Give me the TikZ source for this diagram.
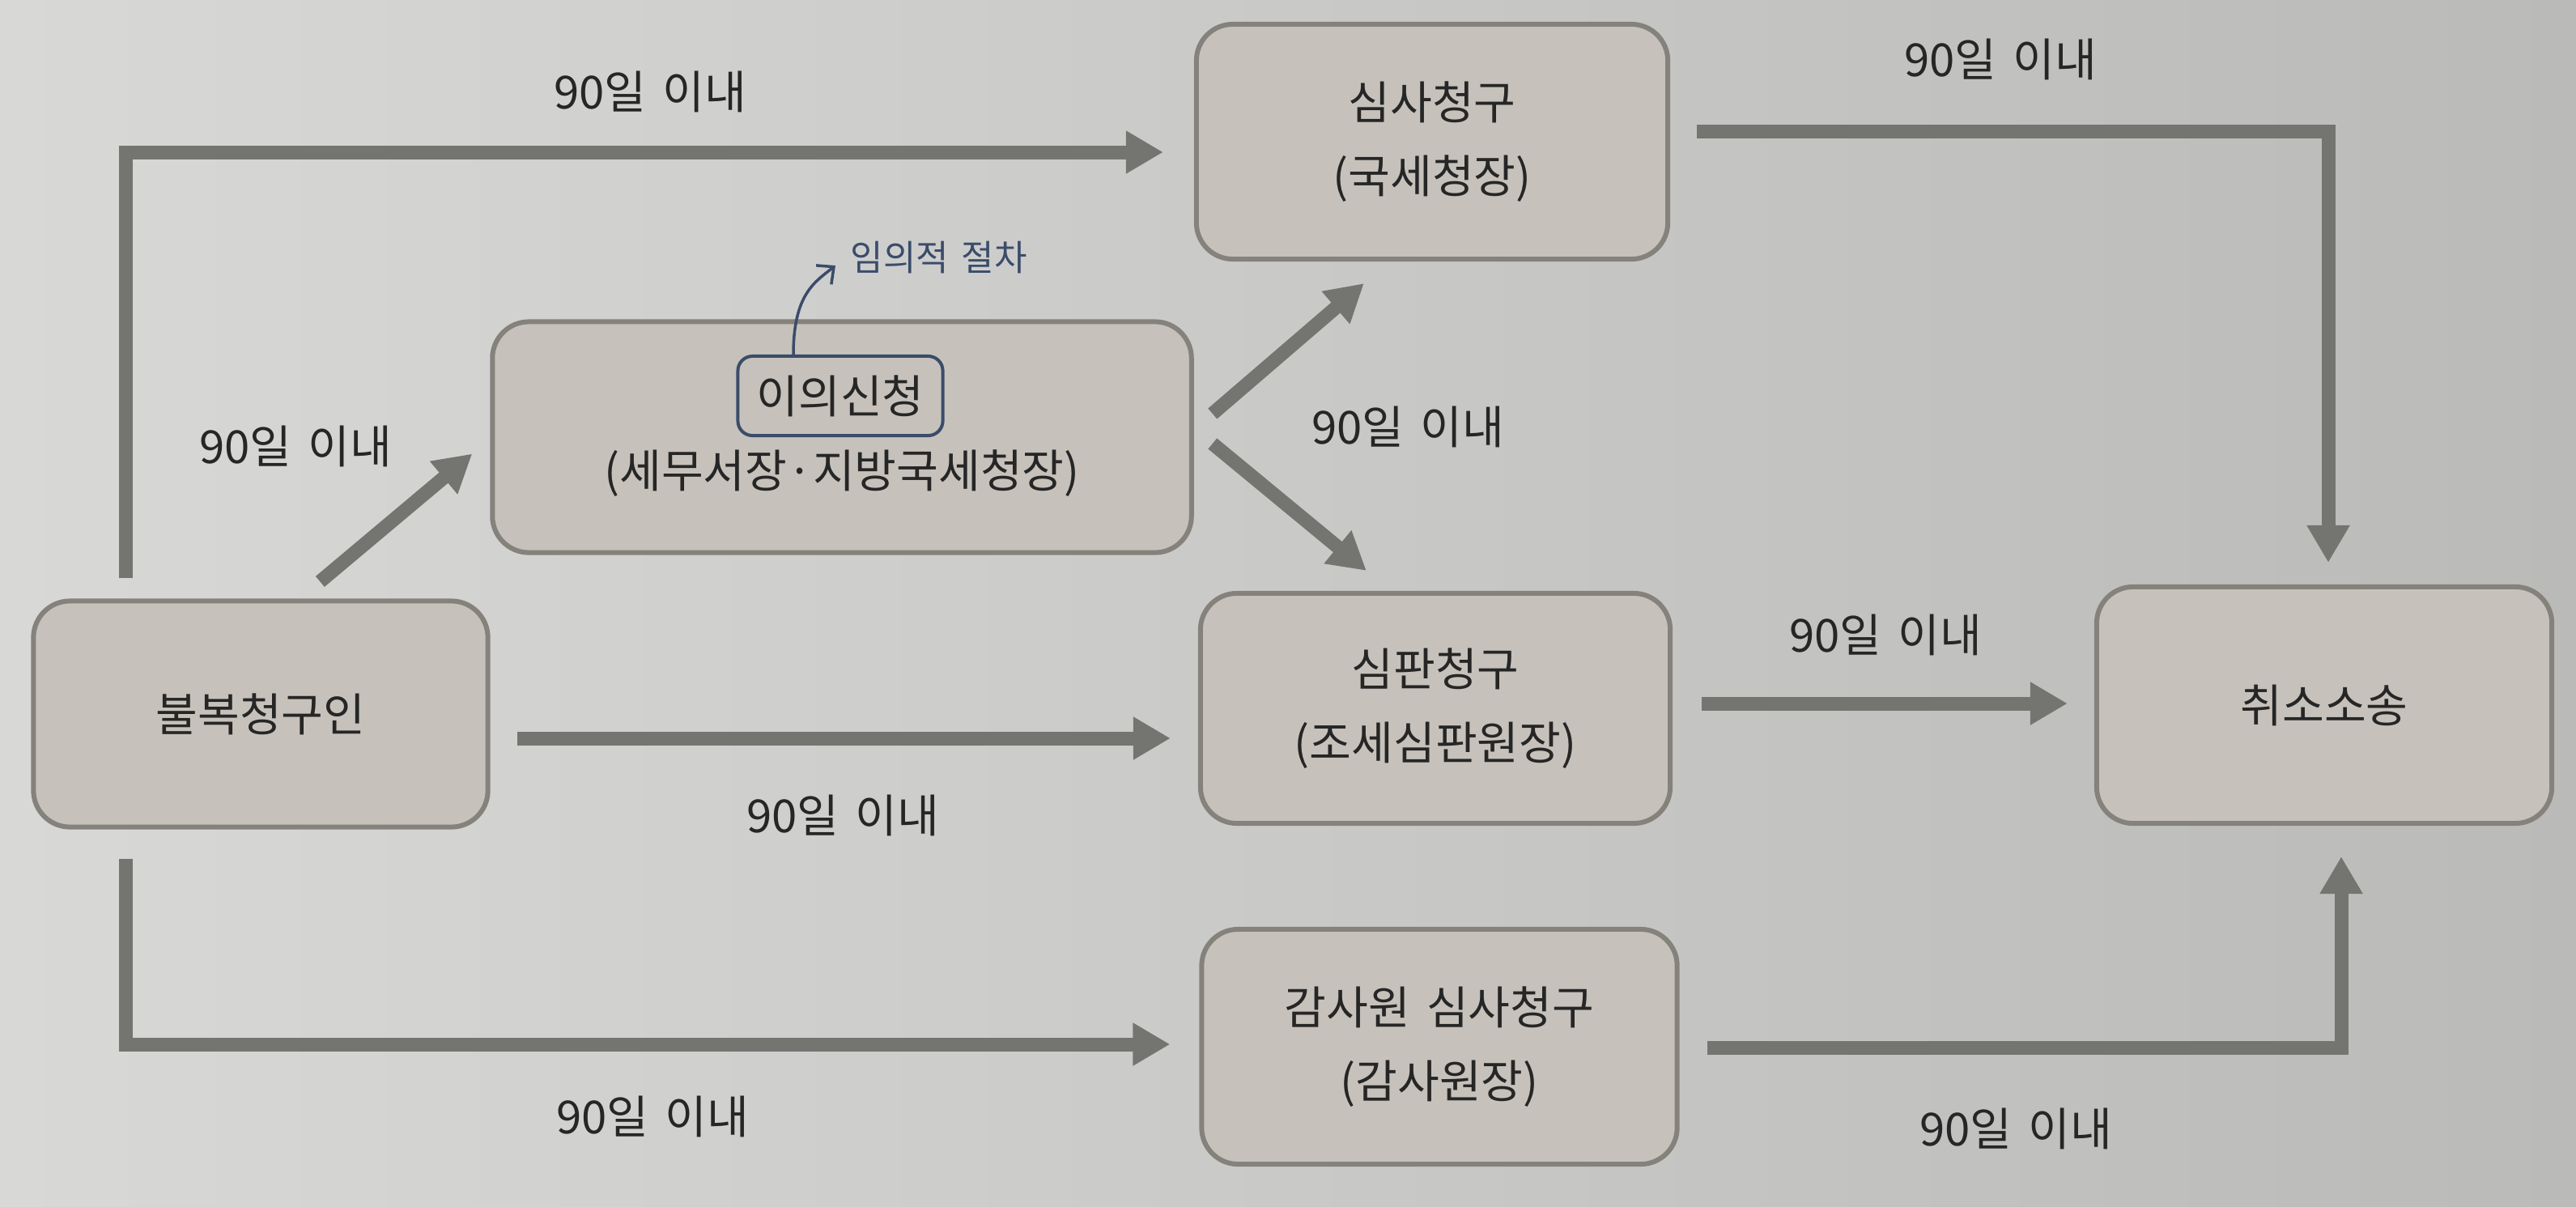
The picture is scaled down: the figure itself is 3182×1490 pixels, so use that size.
\documentclass[tikz,border=0pt]{standalone}
\usepackage{fontspec}
\setmainfont[WordSpace=1.6]{Noto Sans CJK KR}
\usetikzlibrary{arrows.meta,calc}
\definecolor{bgL}{HTML}{D8D9D7}
\definecolor{bgR}{HTML}{BABBB9}
\definecolor{boxfill}{HTML}{C6C2BB}
\definecolor{boxline}{HTML}{85817B}
\definecolor{arrowc}{HTML}{747471}
\definecolor{txt}{HTML}{262626}
\definecolor{bluec}{HTML}{3B4C6A}
\begin{document}
\begin{tikzpicture}[x=0.01cm,y=-0.01cm,
  box/.style={draw=boxline, line width=0.06cm, fill=boxfill, rounded corners=0.45cm,
    inner sep=0pt, align=center, text=txt, font=\fontsize{16}{26}\selectfont},
  lbl/.style={text=txt, font=\fontsize{16}{20}\selectfont, inner sep=0pt},
  arr/.style={draw=arrowc, line width=0.17cm, -{Triangle[length=0.46cm,width=0.5cm]}},
  smallbox/.style={draw=bluec, line width=0.04cm, rounded corners=0.18cm, inner sep=0pt,
    text=txt, font=\fontsize{16}{20}\selectfont},
  curv/.style={draw=bluec, line width=0.035cm, -{Straight Barb[length=0.16cm,width=0.3cm]}},
  note/.style={text=bluec, font=\fontsize{12.5}{15}\selectfont, inner sep=0pt}
]
\fill[left color=bgL, right color=bgR] (0,0) rectangle (3182,1490);
\useasboundingbox (0,0) rectangle (3182,1490);

% boxes
\node[box, minimum width=5.61cm, minimum height=2.79cm] (A) at (322,882) {불복청구인};
\node[box, minimum width=8.63cm, minimum height=2.85cm] (B) at (1040,540) {};
\node[smallbox, minimum width=2.53cm, minimum height=0.98cm] (B1) at (1038,489) {이의신청};
\node[text=txt, font=\fontsize{16}{20}\selectfont, inner sep=0pt] (B2) at (1040,585) {(세무서장·지방국세청장)};
\node[box, minimum width=5.82cm, minimum height=2.90cm] (C) at (1769,175) {심사청구\\(국세청장)};
\node[box, minimum width=5.80cm, minimum height=2.84cm] (D) at (1773,875) {심판청구\\(조세심판원장)};
\node[box, minimum width=5.87cm, minimum height=2.90cm] (E) at (1778,1293) {감사원 심사청구\\(감사원장)};
\node[box, minimum width=5.62cm, minimum height=2.92cm] (F) at (2871,871) {취소소송};

% note
\node[note, anchor=west] (N) at (1050,318) {임의적 절차};
\draw[curv] ($(B1.north)+(-58,0)$) .. controls ($(B1.north)+(-58,-75)$) and ($(N.west)+(-43,30)$) .. ($(N.west)+(-18,10)$);

% connectors
\draw[arr] ($(A.north west)+(117,-25)$) |- ($(C.west)+(-38,13)$);
\draw[arr] ($(A.north west)+(357,-21)$) -- ($(B.south west)+(-22,-125)$);
\draw[arr] ($(A.east)+(33,30)$) -- ($(D.west)+(-34,37)$);
\draw[arr] ($(A.south west)+(117,36)$) |- ($(E.west)+(-36,-3)$);
\draw[arr] ($(B.east)+(23,-29)$) -- ($(C.south west)+(210,27)$);
\draw[arr] ($(B.east)+(23,8)$) -- ($(D.north west)+(208,-25)$);
\draw[arr] ($(C.east)+(33,-13)$) -| ($(F.north)+(5,-27)$);
\draw[arr] ($(D.east)+(36,-6)$) -- ($(F.west)+(-33,-2)$);
\draw[arr] ($(E.east)+(34,1)$) -| ($(F.south)+(21,38)$);

% labels
\node[lbl] (L1) at (803,113) {90일 이내};
\node[lbl] (L2) at (365,551) {90일 이내};
\node[lbl] (L3) at (1041,1007) {90일 이내};
\node[lbl] (L4) at (806,1379) {90일 이내};
\node[lbl] (L5) at (1739,527) {90일 이내};
\node[lbl] (L6) at (2471,73) {90일 이내};
\node[lbl] (L7) at (2329,784) {90일 이내};
\node[lbl] (L8) at (2490,1394) {90일 이내};
\end{tikzpicture}
\end{document}
